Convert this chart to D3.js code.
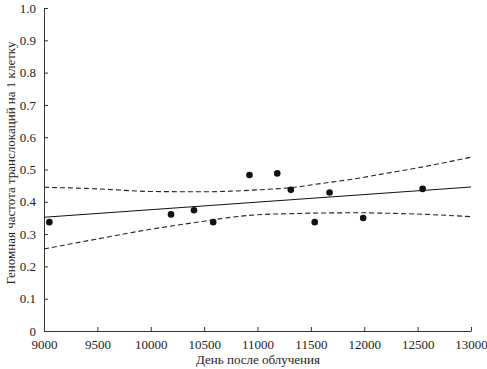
<!DOCTYPE html>
<html>
<head>
<meta charset="utf-8">
<script src="https://cdn.jsdelivr.net/npm/d3@7"></script>
<style>
  body { margin: 0; background: #fff; }
  text { font-family: "Liberation Serif", "DejaVu Serif", serif; fill: #222; }
</style>
</head>
<body>
<svg id="chart" width="487" height="369"></svg>
<script>
// observed points: day after irradiation vs translocation frequency
const days = [9050, 10190, 10405, 10585, 10925, 11185, 11312, 11536, 11675, 11990, 12547];
const freq = [0.337, 0.361, 0.374, 0.337, 0.483, 0.488, 0.437, 0.337, 0.429, 0.350, 0.440];

// fitted line (read at the ends)
const fitDays = [9000, 13000];
const fitVals = [0.352, 0.446];

// confidence band
const bandDays = [9000, 9500, 10000, 10500, 10750, 11000, 11400, 11500, 12000, 12150, 12500, 13000];
const upperVals = [0.445, 0.440, 0.432, 0.431, 0.433, 0.437, 0.447, 0.452, 0.476, 0.485, 0.505, 0.538];
const lowerVals = [0.254, 0.285, 0.315, 0.340, 0.352, 0.360, 0.364, 0.365, 0.366, 0.365, 0.362, 0.354];

const xTicks = [9000, 9500, 10000, 10500, 11000, 11500, 12000, 12500, 13000];
const yTicks = [0, 0.1, 0.2, 0.3, 0.4, 0.5, 0.6, 0.7, 0.8, 0.9, 1.0];

const svg = d3.select('#chart');
const x = d3.scaleLinear().domain([9000, 13000]).range([44, 471]);
const y = d3.scaleLinear().domain([0, 1]).range([331, 8]);

// axes (ticks point inward)
const xAxis = d3.axisBottom(x).tickValues(xTicks).tickSizeInner(-4).tickSizeOuter(0)
  .tickPadding(9).tickFormat(d3.format('d'));
svg.append('g').attr('transform', 'translate(0,331)').call(xAxis);

const yAxis = d3.axisLeft(y).tickValues(yTicks).tickSizeInner(-4).tickSizeOuter(0)
  .tickPadding(8).tickFormat(d => d === 0 ? '0' : d3.format('.1f')(d));
svg.append('g').attr('transform', 'translate(44,0)').call(yAxis);

svg.selectAll('.domain, .tick line').attr('stroke', '#333').attr('stroke-width', 1);
svg.selectAll('.tick text').attr('font-size', 13).attr('fill', '#222')
  .style('font-family', '"Liberation Serif", serif');

// confidence band
const band = d3.line().x(d => x(d[0])).y(d => y(d[1])).curve(d3.curveMonotoneX);
[upperVals, lowerVals].forEach(vals => {
  svg.append('path')
    .attr('d', band(bandDays.map((d, i) => [d, vals[i]])))
    .attr('fill', 'none').attr('stroke', '#222').attr('stroke-width', 1.1)
    .attr('stroke-dasharray', '5,3');
});

// fit line
svg.append('path')
  .attr('d', d3.line().x(d => x(d[0])).y(d => y(d[1]))(fitDays.map((d, i) => [d, fitVals[i]])))
  .attr('fill', 'none').attr('stroke', '#111').attr('stroke-width', 1.1);

// points
svg.selectAll('circle.pt').data(days).enter().append('circle')
  .attr('class', 'pt')
  .attr('cx', d => x(d))
  .attr('cy', (d, i) => y(freq[i]))
  .attr('r', 3.3)
  .attr('fill', '#111');

// axis titles
svg.append('text').attr('x', 258).attr('y', 364).attr('text-anchor', 'middle')
  .attr('font-size', 13).text('День после облучения');

svg.append('text').attr('transform', 'translate(15,163) rotate(-90)')
  .attr('text-anchor', 'middle').attr('font-size', 13)
  .text('Геномная частота транслокаций на 1 клетку');
</script>
</body>
</html>
